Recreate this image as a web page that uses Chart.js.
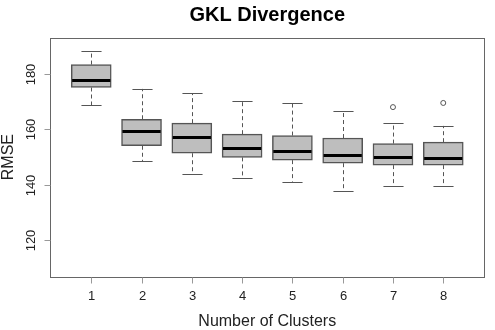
<!DOCTYPE html>
<html>
<head>
<meta charset="utf-8">
<script src="https://cdn.jsdelivr.net/npm/chart.js@4/dist/chart.umd.min.js"></script>
<style>
html,body{margin:0;padding:0;background:#fff;}
canvas{display:block;}
</style>
</head>
<body>
<canvas id="c" width="495" height="330"></canvas>
<script>
const clusters    = [1, 2, 3, 4, 5, 6, 7, 8];
const whiskerLow  = [168.8, 148.6, 144.0, 142.6, 141.1, 137.6, 139.6, 139.6];
const q1          = [175.2, 154.1, 151.4, 149.9, 148.9, 147.8, 147.1, 147.1];
const median      = [177.9, 159.5, 157.1, 153.3, 152.3, 150.6, 150.1, 149.8];
const q3          = [183.5, 163.7, 162.3, 158.3, 157.8, 156.9, 154.9, 155.4];
const whiskerHigh = [188.3, 174.7, 173.2, 170.2, 169.6, 166.8, 162.3, 161.3];
const outlierCluster = [7, 8];
const outlierValue   = [168.1, 169.6];
const yTicks = [120, 140, 160, 180];
const xTicks = clusters;
const titleText = 'GKL Divergence';
const xTitle = 'Number of Clusters';
const yTitle = 'RMSE';

const FONT = '"Liberation Sans", Arial, sans-serif';

const boxPlugin = {
  id: 'boxExtras',
  beforeDatasetsDraw(chart) {
    const ctx = chart.ctx, xs = chart.scales.x, ys = chart.scales.y;
    const unit = xs.getPixelForValue(1) - xs.getPixelForValue(0);
    const capHalf = 0.2 * unit;
    ctx.save();
    ctx.strokeStyle = '#555';
    ctx.lineWidth = 1;
    clusters.forEach((c, i) => {
      const x = Math.round(xs.getPixelForValue(c)) + 0.5;
      // dashed whiskers
      ctx.setLineDash([4, 3]);
      ctx.beginPath();
      ctx.moveTo(x, ys.getPixelForValue(q3[i]));
      ctx.lineTo(x, ys.getPixelForValue(whiskerHigh[i]));
      ctx.moveTo(x, ys.getPixelForValue(q1[i]));
      ctx.lineTo(x, ys.getPixelForValue(whiskerLow[i]));
      ctx.stroke();
      // caps
      ctx.setLineDash([]);
      ctx.beginPath();
      const yh = Math.round(ys.getPixelForValue(whiskerHigh[i])) + 0.5;
      const yl = Math.round(ys.getPixelForValue(whiskerLow[i])) + 0.5;
      ctx.moveTo(x - capHalf, yh); ctx.lineTo(x + capHalf, yh);
      ctx.moveTo(x - capHalf, yl); ctx.lineTo(x + capHalf, yl);
      ctx.stroke();
    });
    ctx.restore();
  },
  afterDatasetsDraw(chart) {
    const ctx = chart.ctx, xs = chart.scales.x, ys = chart.scales.y;
    const unit = xs.getPixelForValue(1) - xs.getPixelForValue(0);
    const boxHalf = 0.4 * unit;
    ctx.save();
    // medians
    ctx.strokeStyle = '#000';
    ctx.lineWidth = 3;
    clusters.forEach((c, i) => {
      const x = xs.getPixelForValue(c);
      const y = Math.round(ys.getPixelForValue(median[i])) + 0.5;
      ctx.beginPath();
      ctx.moveTo(x - boxHalf + 1, y);
      ctx.lineTo(x + boxHalf - 1, y);
      ctx.stroke();
    });
    // frame
    const a = chart.chartArea;
    ctx.strokeStyle = '#666';
    ctx.lineWidth = 1;
    ctx.strokeRect(Math.round(a.left) + 0.5, Math.round(a.top) + 0.5,
                   Math.round(a.right - a.left) - 1, Math.round(a.bottom - a.top));
    // x ticks
    ctx.strokeStyle = '#999';
    ctx.fillStyle = '#222';
    ctx.font = '13px ' + FONT;
    ctx.textAlign = 'center';
    ctx.textBaseline = 'alphabetic';
    xTicks.forEach(v => {
      const x = Math.round(xs.getPixelForValue(v)) + 0.5;
      ctx.beginPath();
      ctx.moveTo(x, Math.round(a.bottom) + 0.5);
      ctx.lineTo(x, Math.round(a.bottom) + 6.5);
      ctx.stroke();
      ctx.fillText(String(v), x, 299.5);
    });
    // y ticks
    yTicks.forEach(v => {
      const y = Math.round(ys.getPixelForValue(v)) + 0.5;
      ctx.beginPath();
      ctx.moveTo(Math.round(a.left) + 0.5, y);
      ctx.lineTo(Math.round(a.left) - 5.5, y);
      ctx.stroke();
      ctx.save();
      ctx.translate(35, y);
      ctx.rotate(-Math.PI / 2);
      ctx.font = '13px ' + FONT;
      ctx.textAlign = 'center';
      ctx.fillText(String(v), 0, 0);
      ctx.restore();
    });
    // titles
    const cx = (a.left + a.right) / 2;
    ctx.fillStyle = '#000';
    ctx.font = 'bold 20px ' + FONT;
    ctx.textAlign = 'center';
    ctx.fillText(titleText, cx, 21);
    ctx.fillStyle = '#222';
    ctx.font = '16px ' + FONT;
    ctx.fillText(xTitle, cx, 326);
    ctx.save();
    ctx.translate(13, (a.top + a.bottom) / 2);
    ctx.rotate(-Math.PI / 2);
    ctx.font = '16px ' + FONT;
    ctx.textAlign = 'center';
    ctx.fillText(yTitle, 0, 0);
    ctx.restore();
    ctx.restore();
  }
};

new Chart(document.getElementById('c'), {
  type: 'bar',
  data: {
    datasets: [
      {
        type: 'bar',
        data: clusters.map((c, i) => ({ x: c, y: [q1[i], q3[i]] })),
        backgroundColor: '#bebebe',
        borderColor: '#555',
        borderWidth: 1.5,
        borderSkipped: false,
        barThickness: 40
      },
      {
        type: 'scatter',
        data: outlierCluster.map((c, i) => ({ x: c, y: outlierValue[i] })),
        pointStyle: 'circle',
        pointRadius: 2.5,
        backgroundColor: 'rgba(0,0,0,0)',
        borderColor: '#555',
        borderWidth: 1
      }
    ]
  },
  options: {
    responsive: false,
    animation: false,
    layout: { padding: { left: 50, right: 10.5, top: 37.5, bottom: 53.3 } },
    plugins: { legend: { display: false }, tooltip: { enabled: false }, title: { display: false } },
    scales: {
      x: { type: 'linear', min: 0.18, max: 8.82, display: false, offset: false },
      y: { type: 'linear', min: 106.7, max: 193.3, display: false }
    }
  },
  plugins: [boxPlugin]
});
</script>
</body>
</html>
